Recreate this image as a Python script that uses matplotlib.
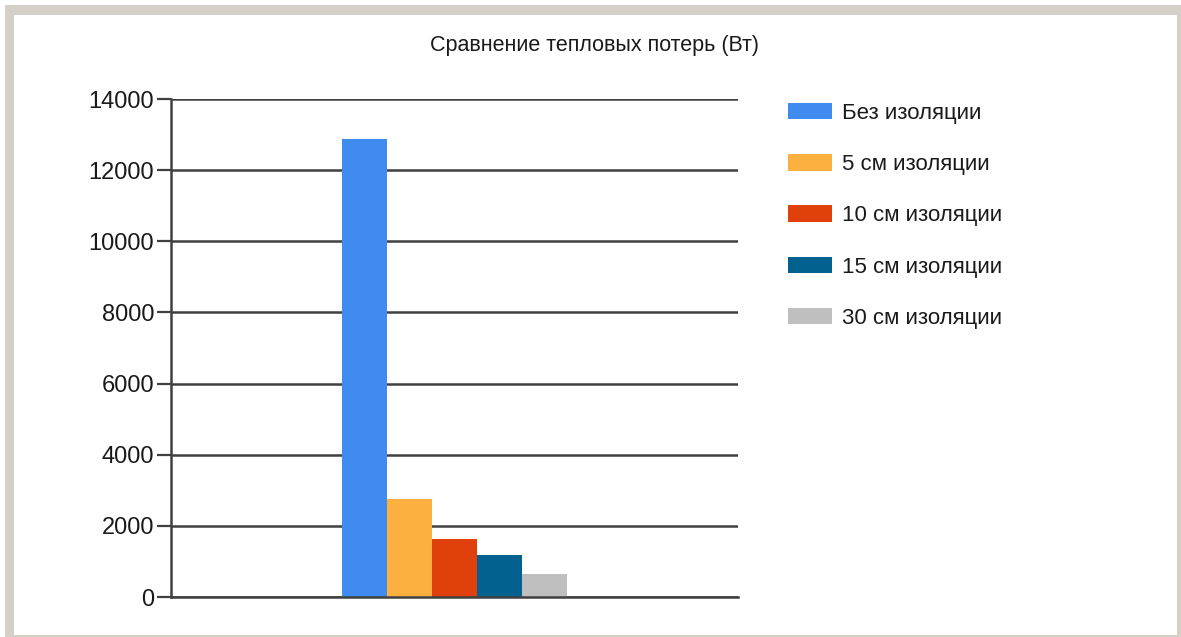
import matplotlib
matplotlib.use("Agg")
import matplotlib.pyplot as plt
from matplotlib.patches import Rectangle, Patch
import numpy as np

plt.rcParams['font.family'] = ['Liberation Sans', 'DejaVu Sans']

title = "Сравнение тепловых потерь (Вт)"
series_names = ["Без изоляции", "5 см изоляции", "10 см изоляции", "15 см изоляции", "30 см изоляции"]
values = [12870, 2760, 1625, 1185, 640]
colors = ["#3f8bef", "#fbb040", "#e0400b", "#03618f", "#bfbfbf"]
yticks = [0, 2000, 4000, 6000, 8000, 10000, 12000, 14000]

W, H = 1181, 637
fig = plt.figure(figsize=(W / 100, H / 100), dpi=100)
fig.patch.set_facecolor("white")

# window-like frame
frame_col = "#d4d0c8"
for (x0, y0, w, h) in [(5, 5, 9, 632), (5, 5, 1176, 10), (1177, 5, 4, 632), (5, 635, 1176, 2)]:
    fig.patches.append(Rectangle((x0 / W, 1 - (y0 + h) / H), w / W, h / H,
                                 transform=fig.transFigure, facecolor=frame_col,
                                 edgecolor="none", zorder=0))

left, right, top, bottom = 171, 738, 99, 597
ax = fig.add_axes([left / W, 1 - bottom / H, (right - left) / W, (bottom - top) / H])
ax.set_facecolor("none")

bw = 0.0794
n = len(values)
offsets = (np.arange(n) - (n - 1) / 2) * bw
for off, v, c, name in zip(offsets, values, colors, series_names):
    ax.bar(off, v, width=bw, color=c, label=name, zorder=3)

ax.set_xlim(-0.5, 0.5)
ax.set_ylim(0, 14000)
ax.set_yticks(yticks)
ax.set_yticklabels([str(t) for t in yticks], fontsize=17, color="#1a1a1a")
ax.set_xticks([])
ax.tick_params(axis="y", length=10, width=1.6, color="#404040", pad=2)
ax.yaxis.grid(True, color="#404040", linewidth=1.8, zorder=1)
for s in ["top", "right"]:
    ax.spines[s].set_visible(False)
for s in ["left", "bottom"]:
    ax.spines[s].set_color("#404040")
    ax.spines[s].set_linewidth(1.8)
    ax.spines[s].set_zorder(4)

fig.text(594 / W, 1 - 46 / H, title, ha="center", va="center", fontsize=15.5, color="#1a1a1a")

handles = [Patch(facecolor=c, edgecolor="none") for c in colors]
fig.legend(handles, series_names, loc="upper left",
           bbox_to_anchor=(779 / W, 1 - 94 / H), frameon=False, fontsize=16,
           handlelength=2.0, handleheight=0.75, labelspacing=1.36, handletextpad=0.45,
           labelcolor="#1a1a1a", borderaxespad=0)

fig.savefig("out.png", dpi=100, facecolor="white")
